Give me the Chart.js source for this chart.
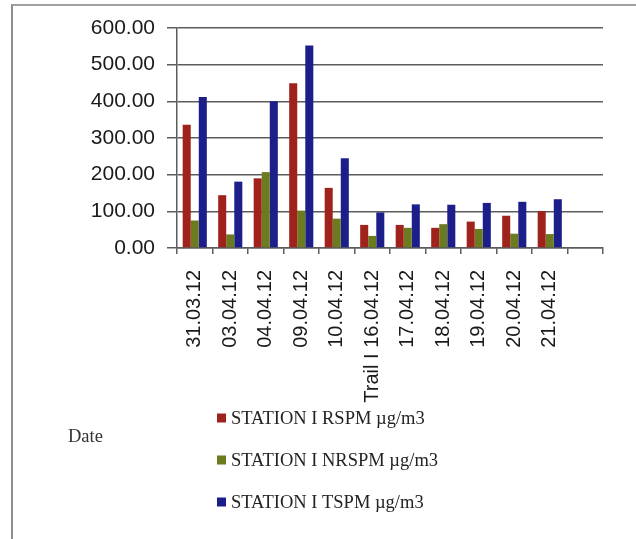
<!DOCTYPE html>
<html>
<head>
<meta charset="utf-8">
<script src="https://cdn.jsdelivr.net/npm/chart.js@4/dist/chart.umd.min.js"></script>
<style>
  html, body { margin: 0; padding: 0; background: #fff; }
  #wrap { position: relative; width: 636px; height: 539px; overflow: hidden; background: #fff; }
  #frame { position: absolute; left: 11px; top: 4px; width: 700px; height: 600px;
           border-left: 2px solid #8e8e8e; border-top: 2px solid #a0a0a0; }
  canvas { position: absolute; left: 0; top: 0; }
</style>
</head>
<body>
<div id="wrap">
  <div id="frame"></div>
  <canvas id="c" width="636" height="539"></canvas>
</div>
<script>
// Sampling dates (last slot intentionally left blank)
const dates = ['31.03.12', '03.04.12', '04.04.12', '09.04.12', '10.04.12',
               'Trail I 16.04.12', '17.04.12', '18.04.12', '19.04.12', '20.04.12', '21.04.12', ''];

// Particulate matter readings, µg/m3
const rspm  = [336, 144, 190, 449, 164, 63, 63, 55, 72, 88, 101];
const nrspm = [75, 37, 207, 102, 80, 33, 55, 65, 52, 39, 38];
const tspm  = [412, 181, 400, 552, 245, 97, 119, 118, 123, 126, 133];

const seriesNames = ['STATION I RSPM µg/m3', 'STATION I NRSPM µg/m3', 'STATION I TSPM µg/m3'];
const seriesColors = ['#a0221c', '#6b7b1f', '#1c1f8a'];
const axisTitle = 'Date';

const yMin = 0, yMax = 600, yStep = 100;

const lineColor = '#5c5c5c';

// Vertical legend beneath the axis labels plus the stray axis caption
const sideLegend = {
  id: 'sideLegend',
  afterDraw(chart) {
    const ctx = chart.ctx;
    ctx.save();
    ctx.font = '18.5px "Liberation Serif", "Times New Roman", serif';
    ctx.textBaseline = 'middle';
    ctx.textAlign = 'left';
    const rows = [418, 460, 502];
    chart.data.datasets.forEach((ds, i) => {
      ctx.fillStyle = ds.backgroundColor;
      ctx.fillRect(217, rows[i] - 4.5, 9, 9);
      ctx.fillStyle = '#222';
      ctx.fillText(ds.label, 231, rows[i] + 1);
    });
    ctx.fillStyle = '#333';
    ctx.fillText(axisTitle, 68, 437);
    ctx.restore();
  }
};

new Chart(document.getElementById('c'), {
  type: 'bar',
  data: {
    labels: dates,
    datasets: [
      { label: seriesNames[0], data: rspm,  backgroundColor: seriesColors[0] },
      { label: seriesNames[1], data: nrspm, backgroundColor: seriesColors[1] },
      { label: seriesNames[2], data: tspm,  backgroundColor: seriesColors[2] }
    ]
  },
  options: {
    responsive: false,
    animation: false,
    devicePixelRatio: 1,
    layout: { padding: { left: 0, top: 28, right: 33, bottom: 0 } },
    datasets: { bar: { categoryPercentage: 0.68, barPercentage: 1.0 } },
    plugins: { legend: { display: false }, tooltip: { enabled: false } },
    scales: {
      y: {
        min: yMin, max: yMax,
        ticks: {
          stepSize: yStep,
          callback: v => Number(v).toFixed(2),
          font: { family: '"Liberation Sans", Arial, sans-serif', size: 21 },
          color: '#1a1a1a',
          padding: 12
        },
        grid: { color: lineColor, lineWidth: 1.5, tickLength: 10 },
        border: { color: lineColor, width: 1.5 },
        afterFit(s) { s.width = 177; }
      },
      x: {
        ticks: {
          autoSkip: false, maxRotation: 90, minRotation: 90,
          font: { family: '"Liberation Sans", Arial, sans-serif', size: 20 },
          color: '#1a1a1a',
          padding: 16
        },
        grid: { drawOnChartArea: false, color: lineColor, lineWidth: 1.5, tickLength: 6 },
        border: { color: lineColor, width: 1.5 },
        afterFit(s) { s.height = 539 - 248; }
      }
    }
  },
  plugins: [sideLegend]
});
</script>
</body>
</html>
